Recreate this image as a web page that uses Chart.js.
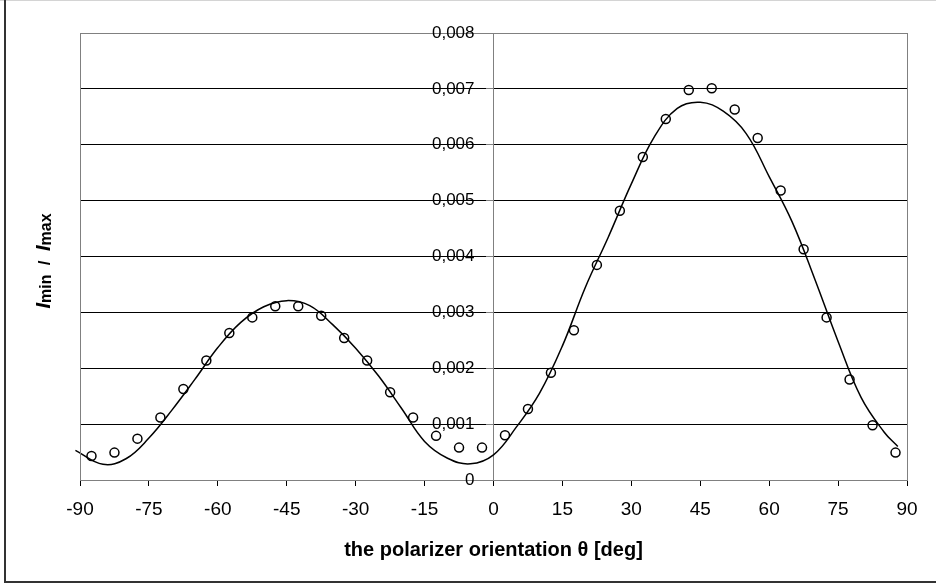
<!DOCTYPE html>
<html>
<head>
<meta charset="utf-8">
<script src="https://cdn.jsdelivr.net/npm/chart.js@4.4.1/dist/chart.umd.min.js"></script>
<style>
  html, body { margin: 0; padding: 0; background: #fff; }
  #wrap { width: 936px; height: 583px; }
</style>
</head>
<body>
<div id="wrap"><canvas id="chart" width="936" height="583"></canvas></div>
<script>
// measured points (open circles)
const measuredTheta = [-87.5, -82.5, -77.5, -72.5, -67.5, -62.5, -57.5, -52.5, -47.5, -42.5,
  -37.5, -32.5, -27.5, -22.5, -17.5, -12.5, -7.5, -2.5, 2.5, 7.5, 12.5, 17.5, 22.5, 27.5,
  32.5, 37.5, 42.5, 47.5, 52.5, 57.5, 62.5, 67.5, 72.5, 77.5, 82.5, 87.5];
const measuredRatio = [0.00043, 0.00049, 0.00074, 0.00112, 0.00163, 0.00214, 0.00263, 0.00291, 0.00311, 0.00311,
  0.00294, 0.00254, 0.00214, 0.00157, 0.00112, 0.00079, 0.00058, 0.00058, 0.00080, 0.00127, 0.00192, 0.00268, 0.00385, 0.00482,
  0.00578, 0.00646, 0.00698, 0.00701, 0.00663, 0.00612, 0.00518, 0.00413, 0.00291, 0.00180, 0.00098, 0.00049];

// fitted curve (solid line)
const fitTheta = [-91, -85, -80, -75, -70, -65, -60, -55, -50, -45, -40, -35, -30, -25, -20, -15, -10, -5,
  0, 5, 10, 15, 20, 25, 30, 35, 40, 45, 50, 55, 60, 65, 70, 75, 80, 85, 88];
const fitRatio = [0.00053, 0.00028, 0.00038, 0.00075, 0.00125, 0.00180, 0.00237, 0.00282, 0.00310, 0.00321,
  0.00312, 0.00278, 0.00236, 0.00186, 0.00128, 0.00069, 0.00039, 0.00029,
  0.00045, 0.00095, 0.00155, 0.00240, 0.00345, 0.00435, 0.00530, 0.00614, 0.00665, 0.00676, 0.00660,
  0.00620, 0.00543, 0.00462, 0.00358, 0.00248, 0.00148, 0.00086, 0.00060];

const xMin = -90, xMax = 90, xStep = 15;
const yMin = 0, yMax = 0.008, yStep = 0.001;

const FONT = '"Liberation Sans", Arial, sans-serif';
Chart.defaults.font.family = FONT;
Chart.defaults.color = '#000';

function toXY(xs, ys) {
  return xs.map((x, i) => ({ x: x, y: ys[i] }));
}

function yLabel(v) {
  return Math.abs(v) < 1e-12 ? '0' : v.toFixed(3).replace('.', ',');
}

const frame = {
  id: 'frame',
  beforeDraw(chart) {
    const c = chart.ctx;
    c.save();
    c.fillStyle = '#fff';
    c.fillRect(0, 0, chart.width, chart.height);
    c.fillStyle = '#d4d4d4';
    c.fillRect(0, 0, chart.width, 1);
    c.fillStyle = '#333';
    c.fillRect(4, 0, 2, chart.height);
    c.fillRect(4, chart.height - 2, chart.width, 2);
    c.restore();
  },
  afterDraw(chart) {
    const c = chart.ctx;
    const a = chart.chartArea;
    const ys = chart.scales.y;
    const xs = chart.scales.x;
    c.save();
    c.strokeStyle = '#808080';
    c.lineWidth = 1;
    c.strokeRect(Math.round(a.left) + 0.5, Math.round(a.top) + 0.5,
      Math.round(a.right - a.left), Math.round(a.bottom - a.top));

    // y tick labels, left of the centred axis
    const axisX = xs.getPixelForValue(0);
    c.font = '17px ' + FONT;
    c.fillStyle = '#000';
    c.textAlign = 'right';
    c.textBaseline = 'middle';
    ys.ticks.forEach(t => {
      c.fillText(yLabel(t.value), axisX - 19, ys.getPixelForValue(t.value));
    });

    // y axis title: I_min / I_max
    const parts = [
      ['I', 'italic bold 20px ' + FONT, 0],
      ['min', 'bold 16px ' + FONT, 1],
      ['  /  ', 'bold 17px ' + FONT, 0],
      ['I', 'italic bold 20px ' + FONT, 0],
      ['max', 'bold 16px ' + FONT, 1]
    ];
    let total = 0;
    parts.forEach(p => { c.font = p[1]; total += c.measureText(p[0]).width; });
    c.translate(50, 261);
    c.rotate(-Math.PI / 2);
    c.textAlign = 'left';
    c.textBaseline = 'alphabetic';
    let x = -total / 2;
    parts.forEach(p => {
      c.font = p[1];
      c.fillText(p[0], x, p[2]);
      x += c.measureText(p[0]).width;
    });
    c.restore();
  }
};

new Chart(document.getElementById('chart'), {
  type: 'scatter',
  data: {
    datasets: [
      {
        label: 'measured',
        data: toXY(measuredTheta, measuredRatio),
        showLine: false,
        pointStyle: 'circle',
        pointRadius: 4.5,
        pointBorderWidth: 1.5,
        pointBorderColor: '#000',
        pointBackgroundColor: 'rgba(0,0,0,0)'
      },
      {
        label: 'fit',
        data: toXY(fitTheta, fitRatio),
        showLine: true,
        borderColor: '#000',
        borderWidth: 1.5,
        pointRadius: 0,
        tension: 0.4,
        fill: false,
        clip: false
      }
    ]
  },
  options: {
    responsive: false,
    animation: false,
    devicePixelRatio: 1,
    layout: { padding: { left: 80, right: 29, top: 33, bottom: 0 } },
    plugins: {
      legend: { display: false },
      tooltip: { enabled: false }
    },
    scales: {
      x: {
        type: 'linear',
        position: 'bottom',
        min: xMin,
        max: xMax,
        afterFit(scale) { scale.height = 103; },
        ticks: {
          stepSize: xStep,
          padding: 12,
          maxRotation: 0,
          font: { size: 19 },
          color: '#000'
        },
        grid: {
          drawOnChartArea: false,
          drawTicks: true,
          tickLength: 6,
          tickColor: '#000'
        },
        border: { color: '#808080', width: 1 },
        title: {
          display: true,
          text: 'the polarizer orientation θ [deg]',
          font: { size: 20, weight: 'bold' },
          color: '#000',
          padding: { top: 0, bottom: 21 }
        }
      },
      y: {
        type: 'linear',
        position: { x: 0 },
        min: yMin,
        max: yMax,
        ticks: {
          stepSize: yStep,
          display: false
        },
        grid: {
          color: '#000',
          lineWidth: 1,
          drawTicks: true,
          tickLength: 7,
          tickColor: '#808080'
        },
        border: { color: '#808080', width: 1 }
      }
    }
  },
  plugins: [frame]
});
</script>
</body>
</html>
